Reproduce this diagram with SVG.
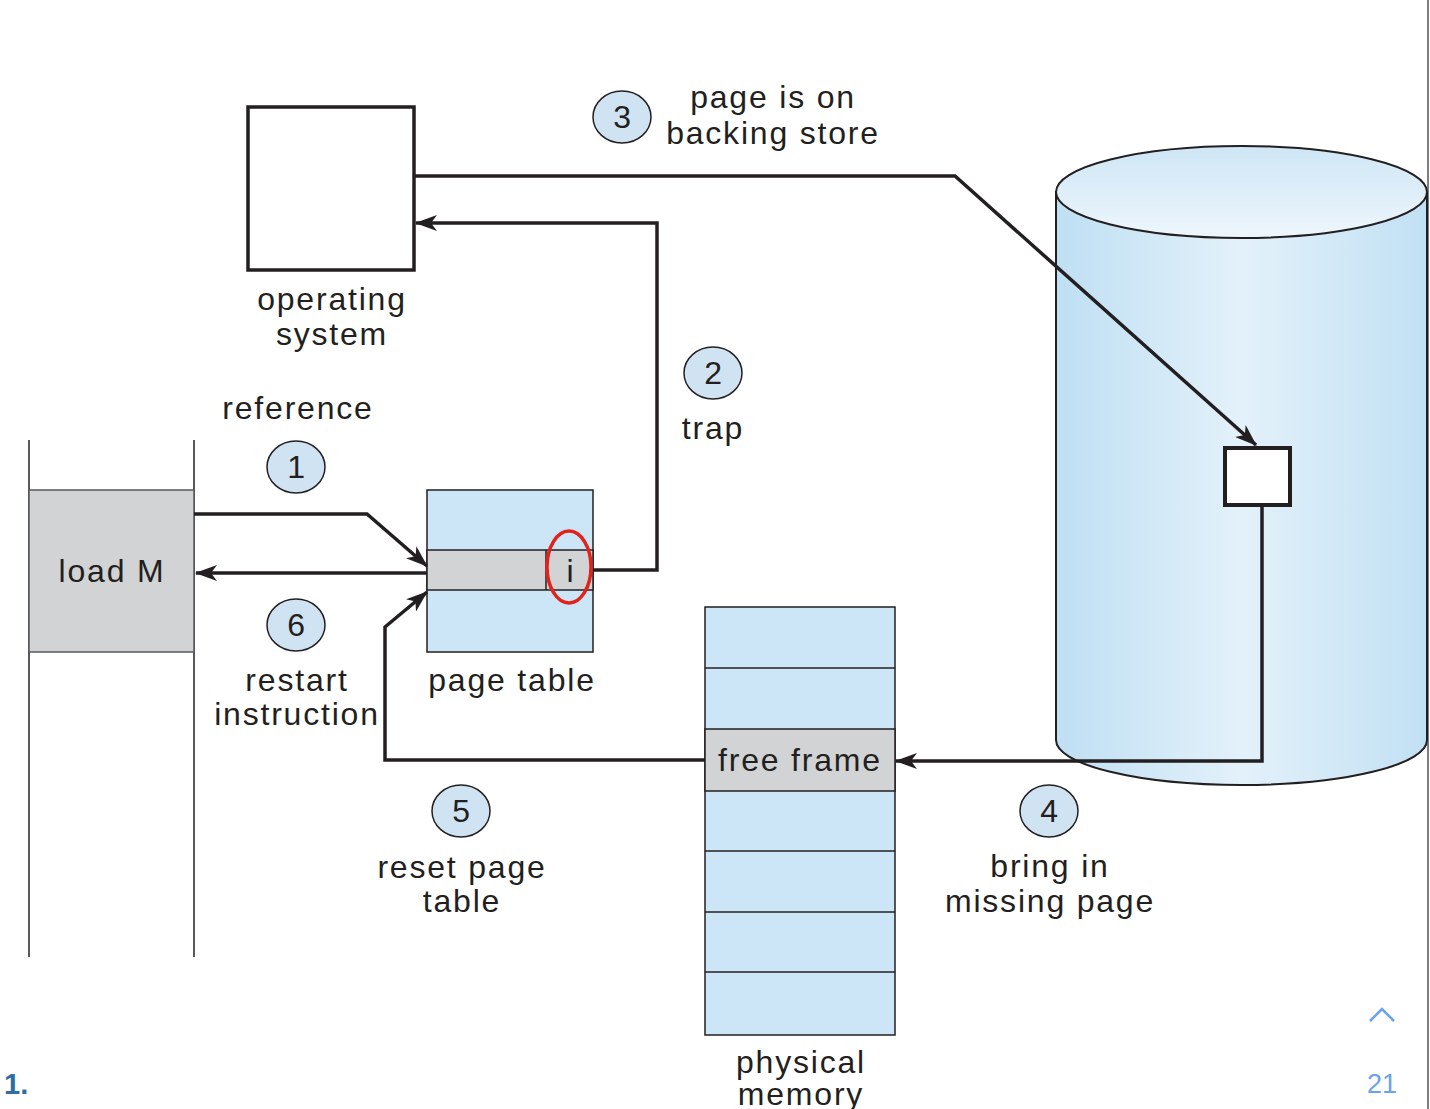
<svg xmlns="http://www.w3.org/2000/svg" width="1430" height="1109" viewBox="0 0 1430 1109">
<style>
text{font-family:"Liberation Sans",Arial,sans-serif;font-size:32px;letter-spacing:1.8px;fill:#231f20;text-anchor:middle}
.ln{fill:none;stroke:#231f20;stroke-width:3.5}
.num{fill:#cfe3f3;stroke:#231f20;stroke-width:1.5}
.cell{fill:#cde6f7;stroke:#231f20;stroke-width:1.5}
.gray{fill:#d1d3d4;stroke:#231f20;stroke-width:1.5}
</style>
<defs>
<marker id="ah" viewBox="0 0 22 16" refX="21" refY="8" markerWidth="22" markerHeight="16" markerUnits="userSpaceOnUse" orient="auto">
<path d="M0,0 L22,8 L0,16 L6,8 Z" fill="#231f20"/>
</marker>
<linearGradient id="cyl" x1="0" x2="1" y1="0" y2="0">
<stop offset="0" stop-color="#bfdff3"/>
<stop offset="0.5" stop-color="#e3f1fa"/>
<stop offset="1" stop-color="#c2e0f4"/>
</linearGradient>
<linearGradient id="cyltop" x1="0" x2="0" y1="0" y2="1">
<stop offset="0" stop-color="#cfe6f6"/>
<stop offset="1" stop-color="#eef6fc"/>
</linearGradient>
</defs>
<rect width="1430" height="1109" fill="#fff"/>
<line x1="1428" y1="0" x2="1428" y2="1109" stroke="#555" stroke-width="1.5"/>

<g id="disk">
<path d="M1056,192 L1056,740 A185.5,45 0 0 0 1427,740 L1427,192 Z" fill="url(#cyl)" stroke="#231f20" stroke-width="2"/>
<ellipse cx="1241.5" cy="192" rx="185.5" ry="46" fill="url(#cyltop)" stroke="#231f20" stroke-width="2"/>
</g>

<g id="process">
<line x1="29" y1="440" x2="29" y2="957" stroke="#58595b" stroke-width="2"/>
<line x1="194" y1="440" x2="194" y2="957" stroke="#58595b" stroke-width="2"/>
<rect x="29" y="490" width="165" height="162" fill="#d1d3d4" stroke="#58595b" stroke-width="1.5"/>
<text x="112" y="582">load M</text>
</g>

<g id="os">
<rect x="248" y="107" width="166" height="163" fill="#fff" stroke="#231f20" stroke-width="3.5"/>
<text x="332" y="310">operating</text>
<text x="332" y="345">system</text>
</g>

<g id="pagetable">
<rect x="427" y="490" width="166" height="162" class="cell"/>
<rect x="427" y="550" width="166" height="40" class="gray"/>
<line x1="546" y1="550" x2="546" y2="590" stroke="#231f20" stroke-width="1.5"/>
<text x="570" y="582" style="letter-spacing:0">i</text>
<ellipse cx="569" cy="567" rx="22" ry="36" fill="none" stroke="#e2231a" stroke-width="3.5"/>
<text x="512" y="691">page table</text>
</g>

<g id="physmem">
<rect x="705" y="607" width="190" height="428" class="cell"/>
<rect x="705" y="729" width="190" height="62" class="gray"/>
<g stroke="#231f20" stroke-width="1.5">
<line x1="705" y1="668" x2="895" y2="668"/>
<line x1="705" y1="851" x2="895" y2="851"/>
<line x1="705" y1="912" x2="895" y2="912"/>
<line x1="705" y1="972" x2="895" y2="972"/>
</g>
<text x="800" y="771">free frame</text>
<text x="801" y="1073">physical</text>
<text x="801" y="1105">memory</text>
</g>

<g id="diskpage">
<rect x="1225" y="448" width="65" height="57" fill="#fff" stroke="#231f20" stroke-width="4"/>
</g>

<g id="connectors">
<polyline class="ln" points="414,176 955,176 1256,445" marker-end="url(#ah)"/>
<polyline class="ln" points="593,570 657,570 657,223 416,223" marker-end="url(#ah)"/>
<polyline class="ln" points="194,514 367,514 427,566" marker-end="url(#ah)"/>
<polyline class="ln" points="427,573 196,573" marker-end="url(#ah)"/>
<polyline class="ln" points="705,760 385,760 385,627 427,592" marker-end="url(#ah)"/>
<polyline class="ln" points="1262,505 1262,761 896,761" marker-end="url(#ah)"/>
</g>

<g id="labels">
<ellipse class="num" cx="622" cy="117" rx="29" ry="26"/><text x="623" y="128">3</text>
<text x="773" y="108">page is on</text>
<text x="773" y="144">backing store</text>
<ellipse class="num" cx="713" cy="373" rx="29" ry="26"/><text x="714" y="384">2</text>
<text x="713" y="439">trap</text>
<text x="298" y="419">reference</text>
<ellipse class="num" cx="296" cy="467" rx="29" ry="26"/><text x="297" y="478">1</text>
<ellipse class="num" cx="296" cy="625" rx="29" ry="26"/><text x="297" y="636">6</text>
<text x="297" y="691">restart</text>
<text x="297" y="725">instruction</text>
<ellipse class="num" cx="461" cy="811" rx="29" ry="26"/><text x="462" y="822">5</text>
<text x="462" y="878">reset page</text>
<text x="462" y="912">table</text>
<ellipse class="num" cx="1049" cy="811" rx="29" ry="26"/><text x="1050" y="822">4</text>
<text x="1050" y="877">bring in</text>
<text x="1050" y="912">missing page</text>
</g>

<g id="page-ui">
<text x="4" y="1094" style="text-anchor:start;font-weight:bold;font-size:29px;letter-spacing:0;fill:#2f6da3">1.</text>
<text x="1382" y="1093" style="font-size:27px;letter-spacing:0;fill:#6aa3e8">21</text>
<polyline points="1370,1021 1382,1009 1394,1021" fill="none" stroke="#6aa3e8" stroke-width="2.5"/>
</g>
</svg>
